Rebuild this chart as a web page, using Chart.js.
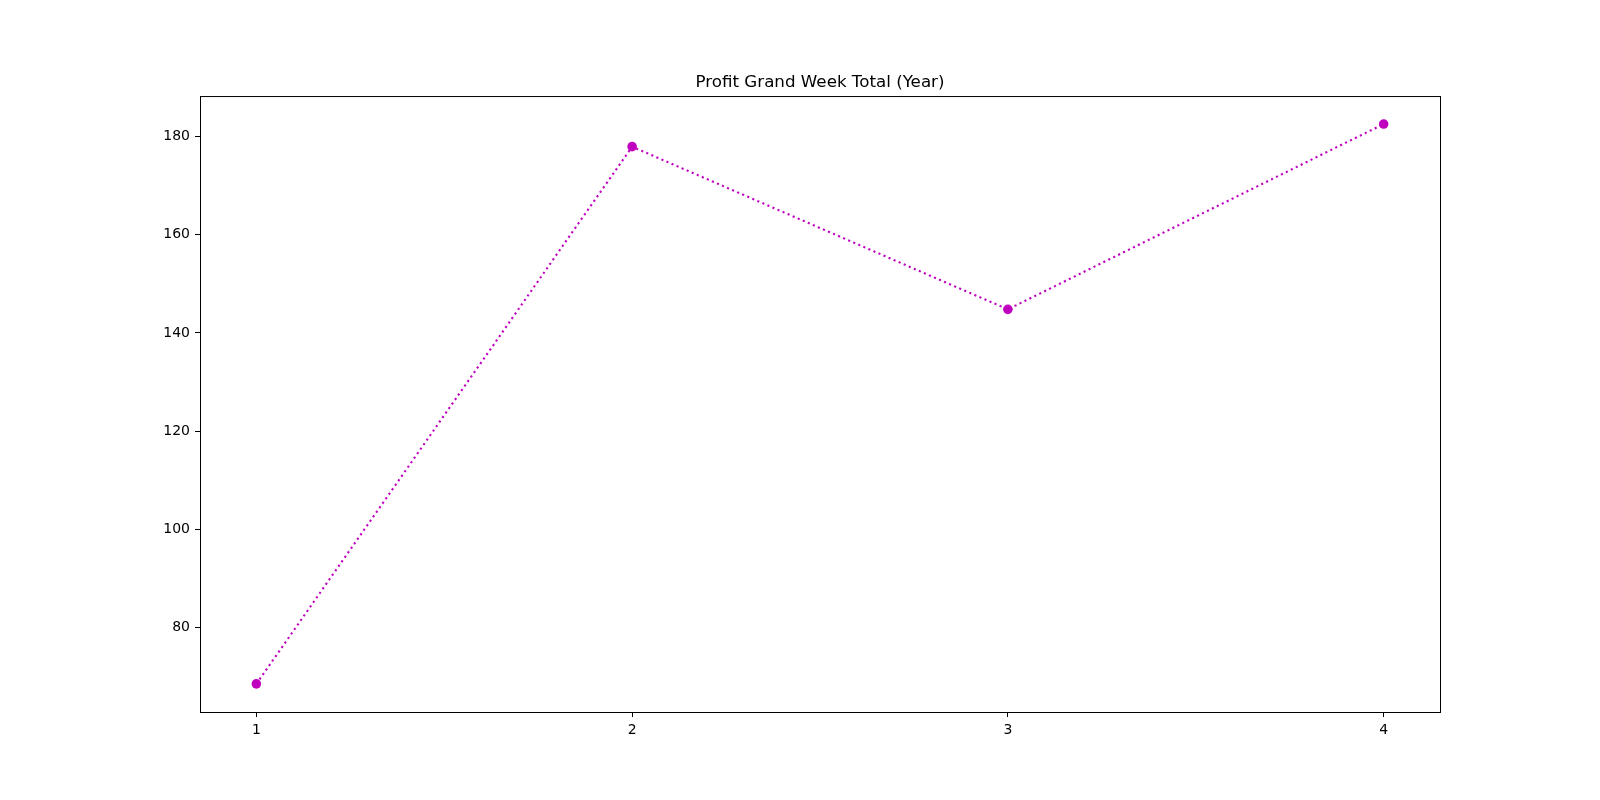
<!DOCTYPE html>
<html>
<head>
<meta charset="utf-8">
<title>Profit Grand Week Total (Year)</title>
<script src="https://cdn.jsdelivr.net/npm/chart.js@4/dist/chart.umd.min.js"></script>
<style>
    html, body { margin: 0; padding: 0; background: #fff; }
    canvas { display: block; }
</style>
</head>
<body>
<canvas id="profitChart" width="1600" height="800"></canvas>
<script>
// Haftalık kâr verisi
const weeks = [1, 2, 3, 4];
const profit = [68.6, 177.9, 144.8, 182.5];
const xTicks = [1, 2, 3, 4];
const yTicks = [80, 100, 120, 140, 160, 180];

const MAGENTA = '#bf00bf';
const FONT = 'DejaVu Sans';

// sağ ve üst çerçeve çizgileri
const frameBox = {
    id: 'frameBox',
    afterDraw(chart) {
        const { ctx, chartArea: a } = chart;
        ctx.save();
        ctx.strokeStyle = '#000';
        ctx.lineWidth = 1;
        ctx.strokeRect(a.left + 0.5, a.top + 0.5, a.right - a.left, a.bottom - a.top);
        ctx.restore();
    }
};

const ctx = document.getElementById('profitChart').getContext('2d');
new Chart(ctx, {
    type: 'line',
    data: {
        datasets: [{
            data: weeks.map((w, i) => ({ x: w, y: profit[i] })),
            borderColor: MAGENTA,
            backgroundColor: MAGENTA,
            borderWidth: 2.1,
            borderDash: [2.1, 3.4],
            borderCapStyle: 'butt',
            pointRadius: 4.8,
            pointBorderWidth: 0,
            pointBackgroundColor: MAGENTA,
            tension: 0,
            fill: false
        }]
    },
    options: {
        responsive: false,
        animation: false,
        devicePixelRatio: 1,
        layout: { padding: { left: 140, right: 160, top: 73, bottom: 48 } },
        plugins: {
            legend: { display: false },
            tooltip: { enabled: false },
            title: {
                display: true,
                text: 'Profit Grand Week Total (Year)',
                fullSize: false,
                color: '#000',
                font: { family: FONT, size: 16.7, weight: 'normal' },
                padding: { top: 0, bottom: 3 }
            }
        },
        scales: {
            x: {
                type: 'linear',
                min: 0.85,
                max: 4.15,
                afterBuildTicks: s => { s.ticks = xTicks.map(v => ({ value: v })); },
                afterFit: s => { s.height = 40; },
                grid: { drawOnChartArea: false, drawTicks: true, tickLength: 5, tickColor: '#000', tickWidth: 1 },
                border: { display: true, color: '#000', width: 1 },
                ticks: { color: '#000', padding: 5, maxRotation: 0, font: { family: FONT, size: 14 } }
            },
            y: {
                min: 62.87,
                max: 188.2,
                afterBuildTicks: s => { s.ticks = yTicks.map(v => ({ value: v })); },
                afterFit: s => { s.width = 60; },
                grid: { drawOnChartArea: false, drawTicks: true, tickLength: 5, tickColor: '#000', tickWidth: 1 },
                border: { display: true, color: '#000', width: 1 },
                ticks: { color: '#000', padding: 5, font: { family: FONT, size: 14 } }
            }
        }
    },
    plugins: [frameBox]
});
</script>
</body>
</html>
